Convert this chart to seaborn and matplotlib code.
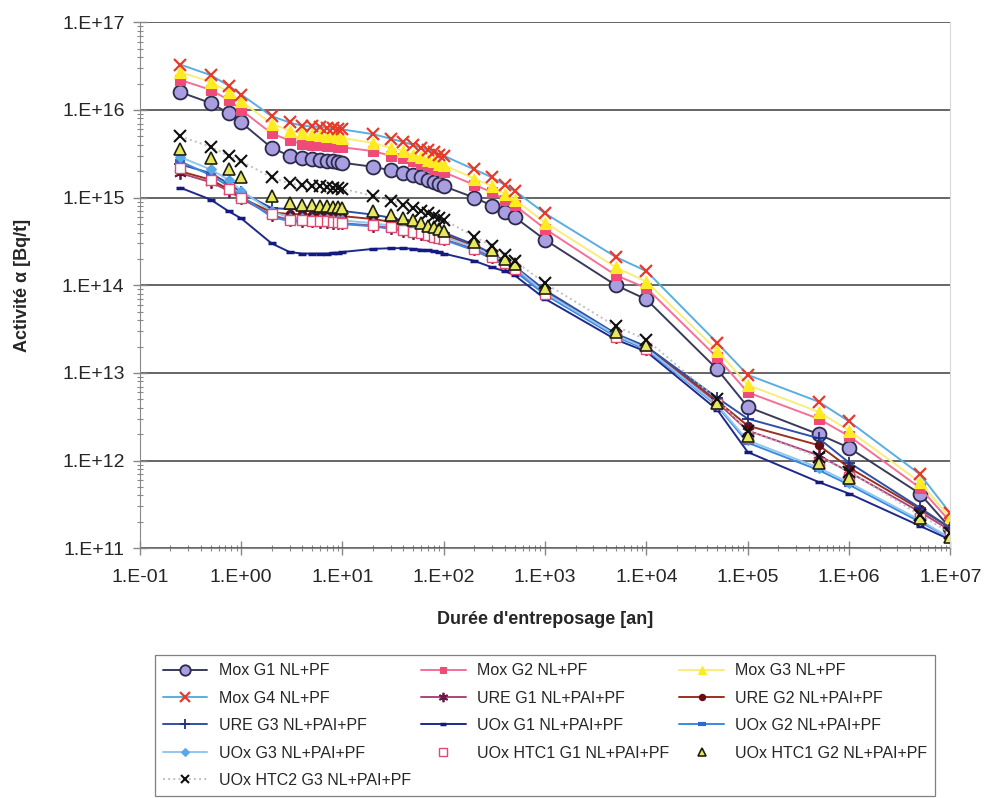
import numpy as np
import pandas as pd
import matplotlib.pyplot as plt
import seaborn as sns
from matplotlib.lines import Line2D
from matplotlib.ticker import LogLocator, FuncFormatter, NullFormatter

# storage time [years]
years = [0.25, 0.5, 0.75, 1, 2, 3, 4, 5, 6, 7, 8, 9, 10,
         20, 30, 40, 50, 60, 70, 80, 90, 100,
         200, 300, 400, 500,
         1e3, 5e3, 1e4, 5e4, 1e5, 5e5, 1e6, 5e6, 1e7]

# alpha activity [Bq/t]
mox_g1 = [1.6e16, 1.2e16, 9.2e15, 7.2e15, 3.7e15, 3.0e15, 2.8e15, 2.75e15, 2.7e15, 2.65e15, 2.6e15, 2.55e15, 2.5e15,
          2.25e15, 2.05e15, 1.9e15, 1.8e15, 1.7e15, 1.6e15, 1.5e15, 1.42e15, 1.35e15,
          1.0e15, 8.1e14, 6.9e14, 6.0e14,
          3.3e14, 1.0e14, 6.9e13, 1.1e13, 4.1e12, 2.0e12, 1.4e12, 4.2e11, 1.7e11]
mox_g2 = [2.2e16, 1.7e16, 1.3e16, 1.0e16, 5.4e15, 4.5e15, 4.1e15, 4.0e15, 3.95e15, 3.9e15, 3.85e15, 3.8e15, 3.75e15,
          3.4e15, 3.0e15, 2.8e15, 2.6e15, 2.4e15, 2.3e15, 2.15e15, 2.05e15, 1.95e15,
          1.4e15, 1.15e15, 9.5e14, 8.2e14,
          4.4e14, 1.3e14, 9.3e13, 1.5e13, 6.0e12, 3.0e12, 1.9e12, 4.9e11, 2.0e11]
mox_g3 = [2.7e16, 2.1e16, 1.6e16, 1.25e16, 7.0e15, 5.8e15, 5.4e15, 5.3e15, 5.2e15, 5.1e15, 5.0e15, 4.9e15, 4.8e15,
          4.2e15, 3.7e15, 3.4e15, 3.1e15, 2.9e15, 2.7e15, 2.6e15, 2.45e15, 2.35e15,
          1.65e15, 1.35e15, 1.1e15, 9.5e14,
          5.2e14, 1.6e14, 1.1e14, 1.8e13, 7.3e12, 3.6e12, 2.2e12, 5.7e11, 2.2e11]
mox_g4 = [3.3e16, 2.5e16, 1.9e16, 1.5e16, 8.5e15, 7.2e15, 6.6e15, 6.5e15, 6.4e15, 6.3e15, 6.2e15, 6.1e15, 6.0e15,
          5.3e15, 4.7e15, 4.3e15, 4.0e15, 3.7e15, 3.5e15, 3.3e15, 3.1e15, 3.0e15,
          2.1e15, 1.7e15, 1.4e15, 1.2e15,
          6.6e14, 2.1e14, 1.45e14, 2.2e13, 9.5e12, 4.7e12, 2.8e12, 7.0e11, 2.5e11]
ure_g1 = [1.9e15, 1.5e15, 1.2e15, 9.8e14, 6.3e14, 5.6e14, 5.4e14, 5.35e14, 5.3e14, 5.25e14, 5.2e14, 5.15e14, 5.1e14,
          4.8e14, 4.5e14, 4.2e14, 4.0e14, 3.85e14, 3.7e14, 3.55e14, 3.45e14, 3.35e14,
          2.6e14, 2.1e14, 1.8e14, 1.55e14,
          8.2e13, 2.6e13, 1.9e13, 4.6e12, 2.2e12, 1.15e12, 7.4e11, 2.6e11, 1.6e11]
ure_g2 = [2.0e15, 1.6e15, 1.25e15, 1.0e15, 6.8e14, 6.5e14, 6.45e14, 6.4e14, 6.35e14, 6.3e14, 6.25e14, 6.2e14, 6.15e14,
          5.7e14, 5.3e14, 5.0e14, 4.7e14, 4.5e14, 4.3e14, 4.1e14, 3.95e14, 3.8e14,
          2.8e14, 2.2e14, 1.85e14, 1.6e14,
          8.5e13, 2.7e13, 2.0e13, 4.8e12, 2.5e12, 1.5e12, 8.3e11, 2.8e11, 1.7e11]
ure_g3 = [2.4e15, 1.9e15, 1.45e15, 1.15e15, 7.6e14, 7.4e14, 7.35e14, 7.3e14, 7.25e14, 7.2e14, 7.15e14, 7.1e14, 7.05e14,
          6.4e14, 5.9e14, 5.5e14, 5.1e14, 4.8e14, 4.6e14, 4.4e14, 4.2e14, 4.0e14,
          2.9e14, 2.3e14, 1.9e14, 1.65e14,
          8.8e13, 2.8e13, 2.0e13, 5.2e12, 3.0e12, 1.8e12, 9.5e11, 2.9e11, 1.7e11]
uox_g1 = [1.3e15, 9.5e14, 7.0e14, 5.8e14, 3.0e14, 2.4e14, 2.3e14, 2.3e14, 2.3e14, 2.3e14, 2.35e14, 2.35e14, 2.4e14,
          2.6e14, 2.65e14, 2.65e14, 2.6e14, 2.55e14, 2.5e14, 2.45e14, 2.4e14, 2.3e14,
          1.9e14, 1.6e14, 1.45e14, 1.3e14,
          7.0e13, 2.4e13, 1.75e13, 3.8e12, 1.25e12, 5.7e11, 4.2e11, 1.8e11, 1.25e11]
uox_g2 = [2.6e15, 1.8e15, 1.35e15, 1.05e15, 6.0e14, 5.4e14, 5.3e14, 5.25e14, 5.2e14, 5.15e14, 5.1e14, 5.05e14, 5.0e14,
          4.7e14, 4.4e14, 4.2e14, 4.0e14, 3.8e14, 3.65e14, 3.5e14, 3.4e14, 3.3e14,
          2.5e14, 2.0e14, 1.7e14, 1.45e14,
          7.8e13, 2.6e13, 1.85e13, 4.2e12, 1.6e12, 7.8e11, 5.3e11, 2.0e11, 1.3e11]
uox_g3 = [2.9e15, 2.1e15, 1.6e15, 1.2e15, 7.0e14, 5.9e14, 5.8e14, 5.75e14, 5.7e14, 5.65e14, 5.6e14, 5.55e14, 5.5e14,
          5.1e14, 4.8e14, 4.5e14, 4.3e14, 4.1e14, 3.95e14, 3.8e14, 3.7e14, 3.6e14,
          2.7e14, 2.2e14, 1.85e14, 1.6e14,
          8.2e13, 2.7e13, 1.9e13, 4.3e12, 1.7e12, 8.3e11, 5.6e11, 2.1e11, 1.3e11]
htc1_g1 = [2.2e15, 1.6e15, 1.25e15, 1.0e15, 6.5e14, 5.6e14, 5.5e14, 5.45e14, 5.4e14, 5.35e14, 5.3e14, 5.25e14, 5.2e14,
           4.9e14, 4.6e14, 4.3e14, 4.1e14, 3.9e14, 3.75e14, 3.6e14, 3.5e14, 3.4e14,
           2.6e14, 2.1e14, 1.8e14, 1.55e14,
           8.0e13, 2.6e13, 1.9e13, 4.4e12, 1.8e12, 9.5e11, 6.5e11, 2.2e11, 1.4e11]
htc1_g2 = [3.6e15, 2.8e15, 2.1e15, 1.7e15, 1.05e15, 8.7e14, 8.3e14, 8.2e14, 8.1e14, 8.0e14, 7.9e14, 7.8e14, 7.7e14,
           7.0e14, 6.4e14, 5.9e14, 5.5e14, 5.1e14, 4.8e14, 4.6e14, 4.4e14, 4.2e14,
           3.1e14, 2.5e14, 2.0e14, 1.75e14,
           9.3e13, 2.9e13, 2.1e13, 4.5e12, 1.9e12, 9.3e11, 6.3e11, 2.2e11, 1.35e11]
htc2_g3 = [5.0e15, 3.8e15, 3.0e15, 2.6e15, 1.7e15, 1.45e15, 1.38e15, 1.36e15, 1.34e15, 1.32e15, 1.3e15, 1.28e15, 1.26e15,
           1.05e15, 9.2e14, 8.3e14, 7.6e14, 7.0e14, 6.6e14, 6.2e14, 5.9e14, 5.6e14,
           3.6e14, 2.8e14, 2.2e14, 1.9e14,
           1.05e14, 3.4e13, 2.4e13, 5.0e12, 2.2e12, 1.1e12, 7.5e11, 2.4e11, 1.5e11]

names = ["Mox G1 NL+PF", "Mox G2 NL+PF", "Mox G3 NL+PF", "Mox G4 NL+PF",
         "URE G1 NL+PAI+PF", "URE G2 NL+PAI+PF", "URE G3 NL+PAI+PF",
         "UOx G1 NL+PAI+PF", "UOx G2 NL+PAI+PF", "UOx G3 NL+PAI+PF",
         "UOx HTC1 G1 NL+PAI+PF", "UOx HTC1 G2 NL+PAI+PF", "UOx HTC2 G3 NL+PAI+PF"]
series = [mox_g1, mox_g2, mox_g3, mox_g4, ure_g1, ure_g2, ure_g3,
          uox_g1, uox_g2, uox_g3, htc1_g1, htc1_g2, htc2_g3]

# line color, marker, size, face, edge, edge width, linestyle
styles = [
    ("#3a3a5c", "o", 10, "#a89ee0", "#2a2a4a", 1.3, "-"),
    ("#f56f98", "s", 6.5, "#f04a78", "#f04a78", 0.8, "-"),
    ("#f7ee7a", "^", 8, "#ffec20", "#ffec20", 0.8, "-"),
    ("#5aaee0", "x", 9, "#e83a2a", "#e83a2a", 1.6, "-"),
    ("#b0447a", (6, 2, 0), 9, "#6a1a48", "#6a1a48", 1.3, "-"),
    ("#9a3020", "o", 6, "#6a0c0c", "#6a0c0c", 0.8, "-"),
    ("#3050a8", "+", 9, "#203080", "#203080", 1.3, "-"),
    ("#1e2a8a", "_", 6, "#141a80", "#141a80", 2.5, "-"),
    ("#3a8ae0", "_", 7, "#2a6ad0", "#2a6ad0", 3.0, "-"),
    ("#90c6f0", "D", 5.5, "#5aa8ec", "#5aa8ec", 0.8, "-"),
    ("#e04a70", "s", 7, "white", "#e04a70", 1.0, "none"),
    ("#404000", "^", 8.5, "#e8e860", "#202010", 1.2, "none"),
    ("#c0c0c0", "x", 8, "#101010", "#101010", 1.5, ":"),
]

df = pd.concat([pd.DataFrame({"t": years, "a": v, "serie": n}) for n, v in zip(names, series)])

sns.set_style("white")
plt.rcParams["font.family"] = ["Liberation Sans", "DejaVu Sans"]

fig = plt.figure(figsize=(9.92, 7.98), dpi=100)
ax = fig.add_axes([0.141, 0.313, 0.817, 0.659])
ax.set_xscale("log")
ax.set_yscale("log")

handles = []
for n, st in zip(names, styles):
    lc, mk, ms, mf, me, mew, ls = st
    sub = df[df["serie"] == n]
    sns.lineplot(data=sub, x="t", y="a", ax=ax, color=lc, linewidth=1.4, linestyle=ls,
                 marker=mk, markersize=ms, markerfacecolor=mf, markeredgecolor=me,
                 markeredgewidth=mew, estimator=None, sort=False, legend=False)
    handles.append(Line2D([], [], color=lc, lw=1.4, linestyle=ls, marker=mk,
                          markersize=ms * 0.75, markerfacecolor=mf, markeredgecolor=me,
                          markeredgewidth=mew))

ax.set_xlim(1e-1, 1e7)
ax.set_ylim(1e11, 1e17)


def sci(v, pos):
    e = int(round(np.log10(v)))
    return "1.E%s%02d" % ("+" if e >= 0 else "-", abs(e))


for axis in (ax.xaxis, ax.yaxis):
    axis.set_major_locator(LogLocator(base=10, numticks=20))
    axis.set_minor_locator(LogLocator(base=10, subs=np.arange(2, 10), numticks=200))
    axis.set_major_formatter(FuncFormatter(sci))
    axis.set_minor_formatter(NullFormatter())

ax.yaxis.grid(True, which="major", color="#3c3c3c", lw=1.1)
ax.xaxis.grid(False)
ax.tick_params(which="both", bottom=True, left=True, direction="inout", color="#888888")
ax.tick_params(which="major", length=10, width=1, labelsize=14)
ax.tick_params(which="minor", length=5, width=0.8)
ax.tick_params(axis="x", which="major", pad=10)
ax.tick_params(axis="y", which="major", pad=6)
for s in ("left", "bottom"):
    ax.spines[s].set_color("#888888")
ax.spines["top"].set_visible(False)
ax.spines["right"].set_color("#d8d8d8")
ax.spines["right"].set_linewidth(0.8)

ax.set_xlabel("Durée d'entreposage [an]", fontsize=13, fontweight="bold", labelpad=18)
ax.set_ylabel("Activité α [Bq/t]", fontsize=13, fontweight="bold", labelpad=22)

# row-major order for a 3-column legend
order = [0, 3, 6, 9, 12, 1, 4, 7, 10, 2, 5, 8, 11]
leg = fig.legend([handles[i] for i in order], [names[i] for i in order],
                 loc="upper left", bbox_to_anchor=(0.156, 0.004, 0.787, 0.175),
                 mode="expand", borderaxespad=0, ncol=3, fontsize=11.5, frameon=True,
                 fancybox=False, edgecolor="#606060", handlelength=2.8, handletextpad=0.7,
                 labelspacing=0.78, borderpad=0.5, columnspacing=0.5)
leg.get_frame().set_linewidth(0.9)

fig.savefig("out.png", dpi=100)
